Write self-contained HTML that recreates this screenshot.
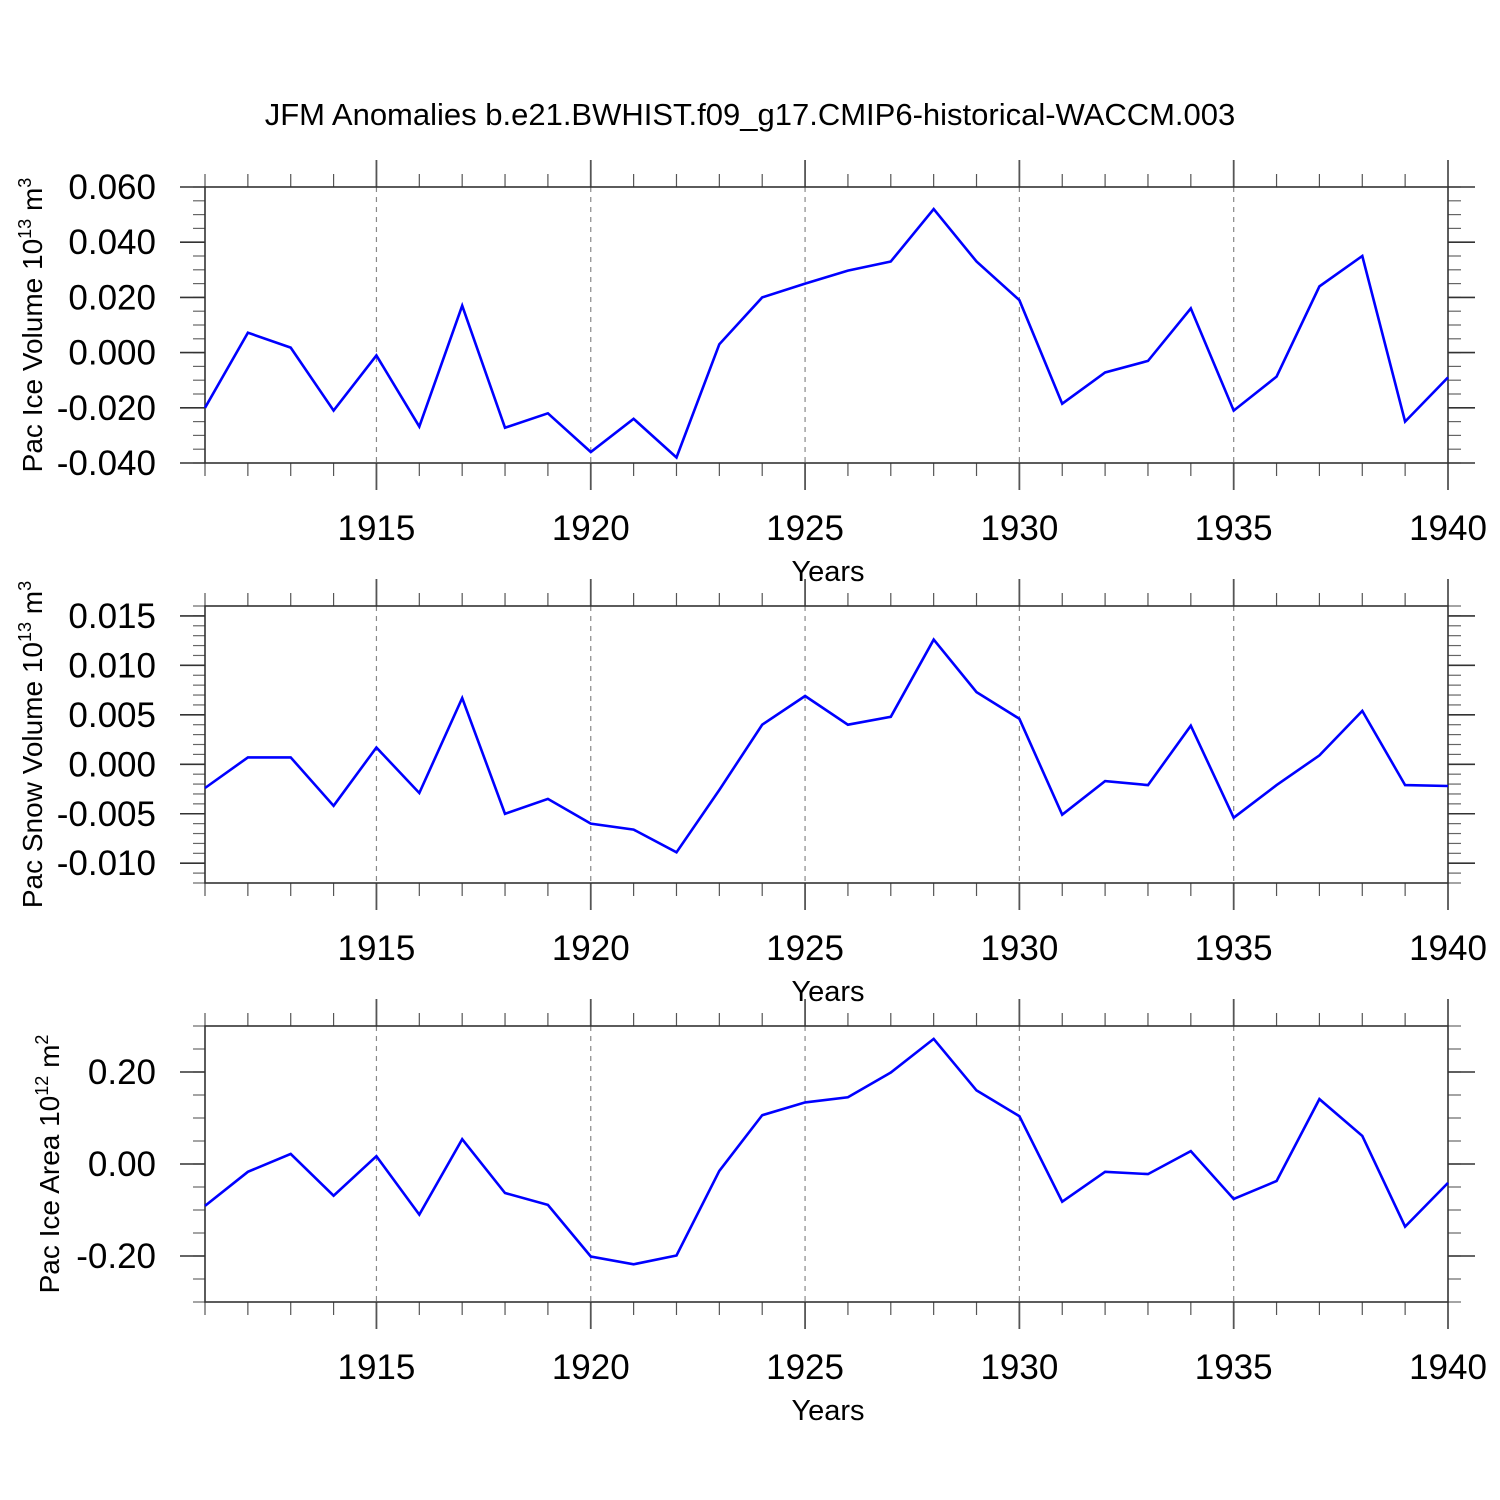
<!DOCTYPE html>
<html><head><meta charset="utf-8"><style>
html,body{margin:0;padding:0;background:#fff}
svg{display:block;font-family:"Liberation Sans",Helvetica,Arial,sans-serif}
</style></head><body>
<svg id="chart" width="1500" height="1500" viewBox="0 0 1500 1500" xmlns="http://www.w3.org/2000/svg">
<rect width="1500" height="1500" fill="#fff"/>
<text x="750" y="125" font-size="31" text-anchor="middle">JFM Anomalies b.e21.BWHIST.f09_g17.CMIP6-historical-WACCM.003</text>
</svg>
<script>
const years = [1911,1912,1913,1914,1915,1916,1917,1918,1919,1920,1921,1922,1923,1924,1925,1926,1927,1928,1929,1930,1931,1932,1933,1934,1935,1936,1937,1938,1939,1940];
const iceVolume = [-0.020,0.0072,0.0018,-0.021,-0.001,-0.0268,0.017,-0.0272,-0.022,-0.036,-0.024,-0.038,0.003,0.020,0.025,0.0297,0.033,0.052,0.033,0.019,-0.0185,-0.0072,-0.003,0.016,-0.021,-0.0087,0.024,0.035,-0.025,-0.009];
const snowVolume = [-0.0024,0.0007,0.0007,-0.0042,0.0017,-0.0029,0.0067,-0.0050,-0.0035,-0.0060,-0.0066,-0.0089,-0.0026,0.0040,0.0069,0.0040,0.0048,0.0126,0.0073,0.0046,-0.0051,-0.0017,-0.0021,0.0039,-0.0054,-0.0021,0.0009,0.0054,-0.0021,-0.0022];
const iceArea = [-0.091,-0.017,0.022,-0.069,0.017,-0.110,0.054,-0.063,-0.089,-0.201,-0.218,-0.199,-0.015,0.106,0.134,0.145,0.199,0.272,0.160,0.104,-0.082,-0.017,-0.022,0.028,-0.076,-0.037,0.141,0.061,-0.136,-0.041];
const xTickYears = [1915,1920,1925,1930,1935,1940];
const iceVolTicks = [0.06,0.04,0.02,0,-0.02,-0.04];
const iceVolLabels = ["0.060","0.040","0.020","0.000","-0.020","-0.040"];
const snowTicks = [0.015,0.010,0.005,0,-0.005,-0.010];
const snowLabels = ["0.015","0.010","0.005","0.000","-0.005","-0.010"];
const areaTicks = [0.2,0,-0.2];
const areaLabels = ["0.20","0.00","-0.20"];

const NS="http://www.w3.org/2000/svg";
const svg=document.getElementById('chart');
function mk(tag,attrs,parent){const e=document.createElementNS(NS,tag);for(const k in attrs)e.setAttribute(k,attrs[k]);(parent||svg).appendChild(e);return e;}
const X0=205,X1=1448;
const xs=y=>X0+(y-1911)*(X1-X0)/(1940-1911);

function panel(name,top,bot,ymin,ymax,minorStep,ticks,labels,data,titleMain,exp,unit,titleX){
  const g=mk('g',{});
  
  
  const ys=v=>bot-(v-ymin)*(bot-top)/(ymax-ymin);
  for(const yr of xTickYears){ if(yr===1940) continue;
    const l=mk('line',{x1:xs(yr),x2:xs(yr),y1:top,y2:bot,stroke:'#888','stroke-width':1.2,'stroke-dasharray':'5,5'},g);
    
    
  }
  for(const yr of years){
    const major=xTickYears.includes(yr);
    const len=major?27:13;
    mk('line',{x1:xs(yr),x2:xs(yr),y1:top,y2:top-len,stroke:'#555','stroke-width':major?1.8:1.2},g);
    mk('line',{x1:xs(yr),x2:xs(yr),y1:bot,y2:bot+len,stroke:'#555','stroke-width':major?1.8:1.2},g);
  }
  const start=Math.ceil(ymin/minorStep-1e-6);
  for(let i=start;i*minorStep<=ymax+1e-9;i++){
    const v=i*minorStep,y=ys(v);
    mk('line',{x1:X0,x2:X0-12,y1:y,y2:y,stroke:'#666','stroke-width':1.2},g);
    mk('line',{x1:X1,x2:X1+13,y1:y,y2:y,stroke:'#666','stroke-width':1.2},g);
  }
  ticks.forEach((v,i)=>{
    const y=ys(v);
    mk('line',{x1:X0,x2:X0-25,y1:y,y2:y,stroke:'#333','stroke-width':1.6},g);
    mk('line',{x1:X1,x2:X1+27,y1:y,y2:y,stroke:'#333','stroke-width':1.6},g);
    const t=mk('text',{x:156,y:y+12,'font-size':35,'text-anchor':'end'},g);
    t.textContent=labels[i];
    
    
  });
  const box=mk('rect',{x:X0,y:top,width:X1-X0,height:bot-top,fill:'none',stroke:'#333','stroke-width':1.6},g);
  
  
  xTickYears.forEach(yr=>{
    const t=mk('text',{x:xs(yr),y:bot+77,'font-size':35,'text-anchor':'middle'},g);
    t.textContent=String(yr);
    
    
  });
  const xt=mk('text',{x:828,y:bot+118,'font-size':29,'text-anchor':'middle'},g);
  xt.textContent='Years';
  
  
  const cy=(top+bot)/2;
  const yt=mk('text',{x:titleX,y:cy,'font-size':28,'text-anchor':'middle',transform:`rotate(-90 ${titleX} ${cy})`},g);
  
  
  const s1=mk('tspan',{},yt);s1.textContent=titleMain+' 10';
  const s2=mk('tspan',{'font-size':18,dy:-11},yt);s2.textContent=exp;
  const s3=mk('tspan',{dy:11},yt);s3.textContent=' m';
  const s4=mk('tspan',{'font-size':18,dy:-11},yt);s4.textContent=unit;
  const pts=data.map((v,i)=>xs(years[i]).toFixed(1)+','+ys(v).toFixed(1)).join(' ');
  const pl=mk('polyline',{points:pts,fill:'none',stroke:'#0000ff','stroke-width':2.6,'stroke-linejoin':'miter'},g);
  
  
}
panel('ice-volume',187,463,-0.04,0.06,0.005,iceVolTicks,iceVolLabels,iceVolume,'Pac Ice Volume','13','3',42);
panel('snow-volume',606,883,-0.012,0.016,0.001,snowTicks,snowLabels,snowVolume,'Pac Snow Volume','13','3',42);
panel('ice-area',1026,1302,-0.3,0.3,0.05,areaTicks,areaLabels,iceArea,'Pac Ice Area','12','2',59);
</script>
</body></html>
